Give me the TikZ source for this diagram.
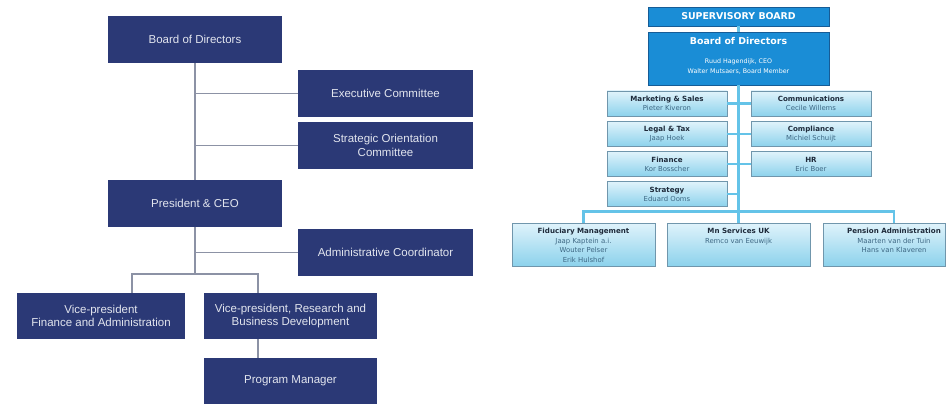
\documentclass[tikz,border=0pt]{standalone}
\usepackage{fontspec}
\usepackage{tikz}
\usetikzlibrary{positioning}
\newfontfamily\plainsans{Liberation Sans}
\newfontfamily\widesans{DejaVu Sans}
\definecolor{navy}{RGB}{43,57,118}
\definecolor{paletext}{RGB}{226,229,238}
\definecolor{greyline}{RGB}{140,146,165}
\definecolor{boardblue}{RGB}{26,141,214}
\definecolor{boardedge}{RGB}{22,92,150}
\definecolor{subtop}{RGB}{224,243,251}
\definecolor{subbot}{RGB}{140,210,236}
\definecolor{subedge}{RGB}{112,150,172}
\definecolor{spineblue}{RGB}{100,195,232}
\definecolor{titletext}{RGB}{30,42,58}
\definecolor{nametext}{RGB}{62,104,132}
\newcommand\deptname[1]{{\color{titletext}\bfseries\fontsize{7.1}{9.5}\selectfont #1}}
\newcommand\boardname[1]{{\bfseries\fontsize{9.4}{11}\selectfont #1}}

\begin{document}
\begin{tikzpicture}[x=1pt,y=-1pt,
	dark/.style={fill=navy,text=paletext,minimum width=175pt,minimum height=47pt,inner sep=0pt,align=center,font=\plainsans\fontsize{11.5}{13.5}\selectfont},
	greyconn/.style={greyline,line width=1.7pt},
	bluebox/.style={draw=boardedge,fill=boardblue,text=white,minimum width=181pt,inner sep=0pt,align=center,font=\widesans\fontsize{6.3}{10}\selectfont},
	subbox/.style={draw=subedge,top color=subtop,bottom color=subbot,minimum width=120pt,minimum height=25pt,inner sep=0pt,align=center,text=nametext,font=\widesans\fontsize{6.9}{9}\selectfont},
	lowbox/.style={subbox,minimum width=143pt,minimum height=43pt},
	lowtext/.style={inner sep=0pt,align=center,text=nametext,font=\widesans\fontsize{6.9}{9.7}\selectfont},
	spine/.style={spineblue,line width=2.6pt}]
	\useasboundingbox[fill=white] (0,0) rectangle (951,404);

	\node[dark,minimum width=174pt] (bod) at (195,39.5) {Board of Directors};
	\node[dark] (exec) at (385.5,93.5) {Executive Committee};
	\node[dark] (soc) at (385.5,145.5) {Strategic Orientation\\Committee};
	\node[dark,minimum width=174pt] (ceo) at (195,203.5) {President \& CEO};
	\node[dark] (admin) at (385.5,252.5) {Administrative Coordinator};
	\node[dark,minimum width=168pt,minimum height=46pt] (vpf) at (101,316) {Vice-president\\Finance and Administration};
	\node[dark,minimum width=173pt,minimum height=46pt] (vpr) at (290.5,316) {Vice-president, Research and\\Business Development};
	\node[dark,minimum width=173pt,minimum height=46pt] (pm) at (290.5,381) {Program Manager};
	\coordinate (fork) at (195,274);

	\draw[greyconn] (bod) -- (ceo);
	\draw[greyconn] (bod |- exec) -- (exec);
	\draw[greyconn] (bod |- soc) -- (soc);
	\draw[greyconn] (ceo) -- (fork);
	\draw[greyconn] (ceo |- admin) -- (admin);
	\draw[greyconn] ([xshift=31]vpf.north) |- (fork) -| ([xshift=-32.5]vpr.north);
	\draw[greyconn] ([xshift=-32.5]vpr.south) -- ([xshift=-32.5]pm.north);

	\node[bluebox,minimum height=19pt] (sup) at (738.5,16.5) {\boardname{SUPERVISORY BOARD}};
	\node[bluebox,minimum height=53pt] (mgmt) at (738.5,58.5) {};
	\node[bluebox,draw=none,fill=none,minimum width=0pt,below=5.5pt of mgmt.north] (mgmttext) {\boardname{Board of Directors}\\[9pt]Ruud Hagendijk, CEO\\Walter Mutsaers, Board Member};

	\node[subbox] (mkt) at (667,103.5) {\deptname{Marketing \& Sales}\\Pieter Kiveron};
	\node[subbox] (com) at (811,103.5) {\deptname{Communications}\\Cecile Willems};
	\node[subbox] (legal) at (667,134) {\deptname{Legal \& Tax}\\Jaap Hoek};
	\node[subbox] (comp) at (811,134) {\deptname{Compliance}\\Michiel Schuijt};
	\node[subbox] (fin) at (667,164) {\deptname{Finance}\\Kor Bosscher};
	\node[subbox] (hr) at (811,164) {\deptname{HR}\\Eric Boer};
	\node[subbox] (strat) at (667,194) {\deptname{Strategy}\\Eduard Ooms};
	\coordinate (bus) at (738.5,211.5);

	\node[lowbox] (fid) at (583.5,244.5) {};
	\node[lowbox] (mns) at (738.5,244.5) {};
	\node[lowbox,minimum width=122pt] (pen) at (884,244.5) {};
	\node[lowtext,below=5pt of fid.north] (fidtext) {\deptname{Fiduciary Management}\\Jaap Kaptein a.i.\\Wouter Pelser\\Erik Hulshof};
	\node[lowtext,below=5pt of mns.north] (mnstext) {\deptname{Mn Services UK}\\Remco van Eeuwijk};
	\node[lowtext,below=5pt of pen.north,xshift=10pt] (pentext) {\deptname{Pension Administration}\\Maarten van der Tuin\\Hans van Klaveren};

	\draw[spine] (sup) -- (mgmt);
	\draw[spine] (mgmt) -- (bus);
	\draw[spine] (mkt) -- (com);
	\draw[spine] (legal) -- (comp);
	\draw[spine] (fin) -- (hr);
	\draw[spine] (strat) -- (strat -| bus);
	\draw[spine] (fid) |- (bus) -| ([xshift=10]pen.north);
	\draw[spine] (bus) -- (mns);
\end{tikzpicture}
\end{document}
